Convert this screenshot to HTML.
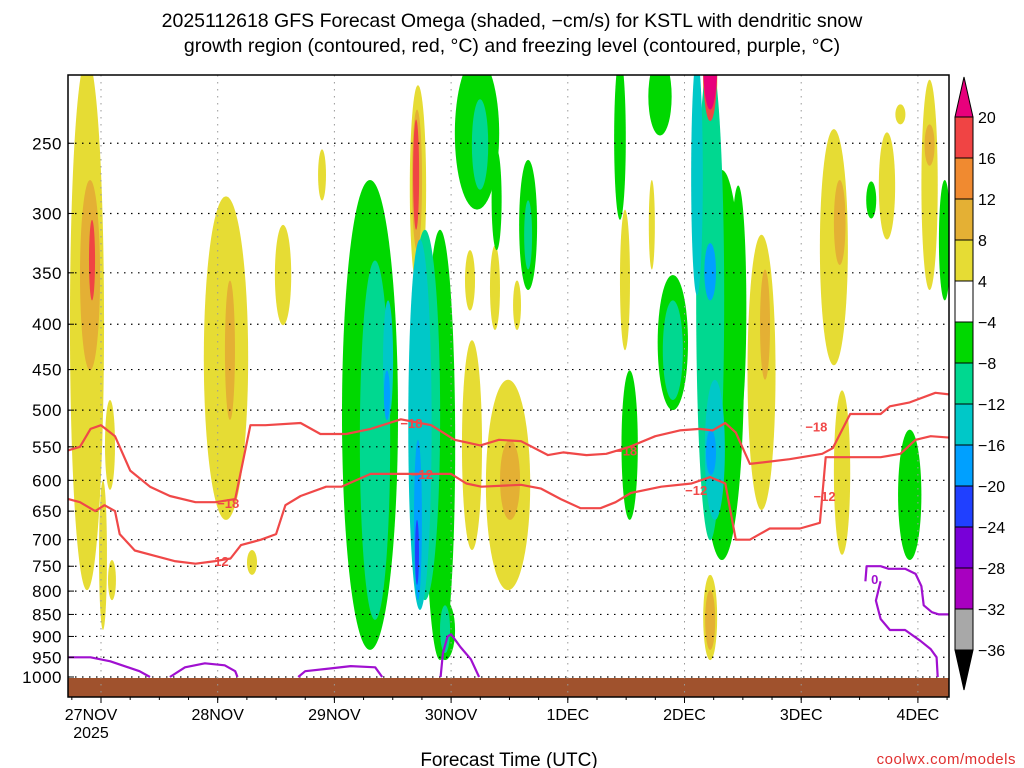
<!DOCTYPE html>
<html><head><meta charset="utf-8"><style>
html,body{margin:0;padding:0;background:#fff;}
svg{display:block;font-family:"Liberation Sans",sans-serif;}
</style></head><body>
<svg id="chart" width="1024" height="768" viewBox="0 0 1024 768" xmlns="http://www.w3.org/2000/svg">
<text x="512" y="27" font-size="19.5" text-anchor="middle">2025112618 GFS Forecast Omega (shaded, −cm/s) for KSTL with dendritic snow</text>
<text x="512" y="52" font-size="19.5" text-anchor="middle">growth region (contoured, red, °C) and freezing level (contoured, purple, °C)</text>
<defs><clipPath id="plotclip"><rect x="68" y="75" width="881" height="622"/></clipPath></defs>
<g id="shade" clip-path="url(#plotclip)"></g>
<g id="grid"></g>
<g id="contours" clip-path="url(#plotclip)"></g>
<rect x="68" y="75" width="881" height="622" fill="none" stroke="#000" stroke-width="1.5"/>
<g id="yaxis"></g>
<g id="xaxis"></g>
<text x="509" y="766" font-size="19" text-anchor="middle">Forecast Time (UTC)</text>
<text x="1016" y="764" font-size="15" text-anchor="end" fill="#e03030" letter-spacing="0.5">coolwx.com/models</text>
<g id="cbar"></g>
</svg>
<script>
// ---- data ----
const pressureTicks=[250,300,350,400,450,500,550,600,650,700,750,800,850,900,950,1000];
const dayLabels=["27NOV","28NOV","29NOV","30NOV","1DEC","2DEC","3DEC","4DEC"];
const dayTicks=[0,1,2,3,4,5,6,7];
const cbarLevels=[20,16,12,8,4,-4,-8,-12,-16,-20,-24,-28,-32,-36];
const cbarColors=["#f04444","#f08a30","#e4b034","#e6dc34","#ffffff","#00d800","#00d890","#00c8c8","#00a0ff","#2040ff","#7800d8","#a800c0","#a8a8a8"];
// omega cells: time center (days from 27NOV 00Z), half-width (days), top pressure, bottom pressure, omega value
const blobT=[-0.12,-0.094,-0.077,0.017,0.077,0.094,1.071,1.105,1.294,1.56,1.894,2.305,2.905,2.348,2.776,2.46,2.733,2.45,2.716,2.708,2.716,2.708,2.70,3.222,3.248,3.66,3.66,2.948,2.948,3.179,3.488,3.505,3.162,3.376,3.565,3.39,4.447,4.79,4.49,4.72,4.53,4.90,4.90,5.32,5.22,5.107,5.26,5.22,5.227,5.22,5.22,5.22,5.22,5.22,5.22,5.46,5.66,5.69,6.28,6.33,6.35,6.60,6.735,6.85,7.10,7.10,7.23,6.93];
const blobW=[0.146,0.086,0.026,0.034,0.043,0.034,0.19,0.043,0.043,0.07,0.034,0.24,0.13,0.13,0.13,0.043,0.10,0.026,0.034,0.017,0.07,0.043,0.026,0.19,0.07,0.077,0.034,0.086,0.043,0.086,0.19,0.086,0.043,0.043,0.034,0.043,0.05,0.10,0.043,0.026,0.07,0.13,0.086,0.19,0.12,0.05,0.086,0.05,0.043,0.06,0.06,0.06,0.06,0.06,0.043,0.07,0.12,0.043,0.12,0.05,0.07,0.043,0.07,0.043,0.07,0.043,0.05,0.10];
const blobTop=[200,275,305,600,487,738,287,357,719,309,254,275,313,339,313,376,321,451,540,665,215,229,235,200,223,261,290,819,830,417,462,540,330,326,357,254,200,200,297,275,451,352,376,268,200,200,462,324,526,180,180,180,180,767,798,279,317,347,241,275,475,276,243,226,212,238,275,526];
const blobBot=[798,451,376,885,615,819,665,513,767,401,290,932,957,862,819,513,840,513,819,787,366,330,313,297,282,366,347,957,940,719,798,665,386,406,406,330,305,245,428,347,665,500,487,738,701,371,665,376,592,256,245,236,229,957,932,526,648,462,445,343,728,304,321,238,366,265,376,738];
const blobV=[5,9,17,5,5,5,5,9,5,5,5,-6,-6,-10,-10,-14,-14,-18,-18,-22,5,9,17,-6,-10,-6,-10,-6,-10,5,5,9,5,5,5,-6,-6,-6,5,5,-6,-6,-10,-6,-10,-14,-14,-18,-18,5,9,17,21,5,9,-6,5,9,5,9,5,-6,5,5,5,9,-6,-6];
// contour -18
const c18T=[-0.28,-0.18,-0.09,0,0.12,0.25,0.42,0.59,0.81,0.98,1.15,1.28,1.41,1.71,1.88,2.1,2.31,2.57,2.83,3.03,3.25,3.41,3.6,3.83,3.96,4.16,4.33,4.53,4.75,4.96,5.13,5.24,5.35,5.44,5.56,5.9,6.18,6.27,6.42,6.68,6.76,6.93,7.15,7.27];
const c18P=[555,550,525,520,535,585,610,625,635,635,630,520,520,517,532,532,525,512,520,540,548,540,542,562,558,562,560,550,535,527,525,527,517,530,575,568,560,552,505,505,495,490,478,480];
// contour -12
const c12T=[-0.28,-0.18,-0.05,0.03,0.12,0.16,0.29,0.46,0.63,0.81,0.98,1.11,1.2,1.37,1.5,1.58,1.71,1.93,2.06,2.31,2.57,2.83,3.0,3.13,3.26,3.6,3.77,3.94,4.11,4.28,4.41,4.54,4.8,5.06,5.22,5.35,5.44,5.56,5.73,5.99,6.16,6.21,6.42,6.68,6.85,6.98,7.11,7.27];
const c12P=[630,635,650,640,650,690,720,730,740,745,740,735,710,700,690,640,625,610,610,590,590,590,590,605,610,607,613,630,645,645,635,620,610,605,595,605,700,700,680,680,670,565,565,565,560,540,535,537];
// freezing level 0C contour segments
const f1T=[-0.28,-0.09,0.08,0.33,0.42];const f1P=[950,950,960,985,1000];
const f2T=[0.59,0.72,0.89,1.06,1.15,1.17];const f2P=[1000,975,965,970,985,1000];
const f3T=[1.69,1.75,1.97,2.14,2.35,2.41];const f3P=[1000,985,978,972,975,1000];
const f4T=[2.91,2.93,2.97,3.0,3.04,3.08,3.17,3.24];const f4P=[1000,940,900,895,910,925,955,1000];
const f5T=[6.55,6.56,6.68,6.75,6.89,6.98,7.03,7.05,7.12,7.18,7.27];const f5P=[780,750,750,755,755,765,790,830,845,850,850];
const f6T=[6.68,6.64,6.68,6.76,6.89,7.02,7.11,7.16,7.17];const f6P=[780,820,860,885,885,910,930,950,1000];
// ---- axes ----
const X0=101,DX=116.7,Y1000=677,K=385;
function xs(t){return X0+t*DX;}
function ys(p){return Y1000-K*Math.log(1000/p);}
function color(v){if(v>20)return"#e8007c";for(let i=0;i<cbarLevels.length-1;i++){if(v<=cbarLevels[i]&&v>cbarLevels[i+1])return cbarColors[i];}return"#000";}
const NS="http://www.w3.org/2000/svg";
function mk(tag,attrs,parent){const e=document.createElementNS(NS,tag);for(const k in attrs)e.setAttribute(k,attrs[k]);parent.appendChild(e);return e;}
const shade=document.getElementById('shade');
const order=blobT.map((_,i)=>i).sort((a,b)=>Math.abs(blobV[a])-Math.abs(blobV[b])||a-b);
order.forEach(i=>{
 const y1=ys(blobTop[i]),y2=ys(blobBot[i]);
 const e=mk('ellipse',{cx:xs(blobT[i]),cy:(y1+y2)/2,rx:blobW[i]*DX,ry:(y2-y1)/2,fill:color(blobV[i])},shade);
 
 
});
const gr=mk('rect',{x:68,y:678,width:881,height:19,fill:"#a0522d"},shade);


// grid
const grid=document.getElementById('grid');
pressureTicks.forEach(p=>{const l=mk('line',{x1:68,x2:949,y1:ys(p),y2:ys(p),stroke:"#000","stroke-width":1.2,"stroke-dasharray":"1.5,5.5"},grid);
 });
dayTicks.forEach(d=>{const l=mk('line',{x1:xs(d),x2:xs(d),y1:75,y2:697,stroke:"#999","stroke-width":1,"stroke-dasharray":"1.5,5.5"},grid);
 });
// y axis
const ya=document.getElementById('yaxis');
pressureTicks.forEach(p=>{const t=mk('text',{x:62,y:ys(p)+6,"font-size":17,"text-anchor":"end","letter-spacing":"0.5"},ya);t.textContent=p;
 
 mk('line',{x1:68,x2:74,y1:ys(p),y2:ys(p),stroke:"#000"},ya);});
// x axis
const xa=document.getElementById('xaxis');
dayTicks.forEach((d,i)=>{mk('line',{x1:xs(d),x2:xs(d),y1:697,y2:703,stroke:"#000"},xa);
 const t=mk('text',{x:i==0?91:xs(d),y:720,"font-size":16,"text-anchor":"middle"},xa);t.textContent=dayLabels[i];
 });
for(let d=-0.25;d<7.3;d+=0.25){mk('line',{x1:xs(d),x2:xs(d),y1:697,y2:700,stroke:"#000"},xa);}
const yr=mk('text',{x:91,y:738,"font-size":16,"text-anchor":"middle"},xa);yr.textContent="2025";

// contours
const cg=document.getElementById('contours');
function line(T,P,col,name){const d=T.map((t,i)=>(i?'L':'M')+xs(t).toFixed(1)+','+ys(P[i]).toFixed(1)).join('');
 const e=mk('path',{d:d,fill:"none",stroke:col,"stroke-width":2.2,"stroke-linejoin":"round"},cg);
 }
line(c18T,c18P,"#f04848","contour-minus18");
line(c12T,c12P,"#f04848","contour-minus12");
[[f1T,f1P],[f2T,f2P],[f3T,f3P],[f4T,f4P],[f5T,f5P],[f6T,f6P]].forEach(a=>line(a[0],a[1],"#a010d0","freezing-level-contour"));
const labT=[1.09,2.66,4.5,6.13,1.0,2.75,5.1,6.2,6.63];
const labP=[636,517,555,522,740,590,615,625,775];
const labS=["−18","−18","−18","−18","−12","−12","−12","−12","0"];
labT.forEach((t,i)=>{const tx=mk('text',{x:xs(t),y:ys(labP[i])+5,"font-size":13,"font-weight":"bold","text-anchor":"middle",fill:i==8?"#a010d0":"#f04848"},cg);
 tx.textContent=labS[i];});
// colorbar
const cb=document.getElementById('cbar');
const CB0=117,CBH=41.0,CX=955,CW=18;
cbarColors.forEach((c,i)=>{const r=mk('rect',{x:CX,y:CB0+i*CBH,width:CW,height:CBH,fill:c,stroke:"#000","stroke-width":1},cb);
 });
mk('polygon',{points:`${CX},${CB0} ${CX+CW},${CB0} ${CX+CW/2},${CB0-40}`,fill:"#e8007c",stroke:"#000"},cb);
const yb=CB0+cbarColors.length*CBH;
mk('polygon',{points:`${CX},${yb} ${CX+CW},${yb} ${CX+CW/2},${yb+40}`,fill:"#000",stroke:"#000"},cb);
cbarLevels.forEach((v,i)=>{const t=mk('text',{x:978,y:CB0+i*CBH+6,"font-size":16},cb);t.textContent=v<0?"−"+(-v):v;
 });
</script>
</body></html>
